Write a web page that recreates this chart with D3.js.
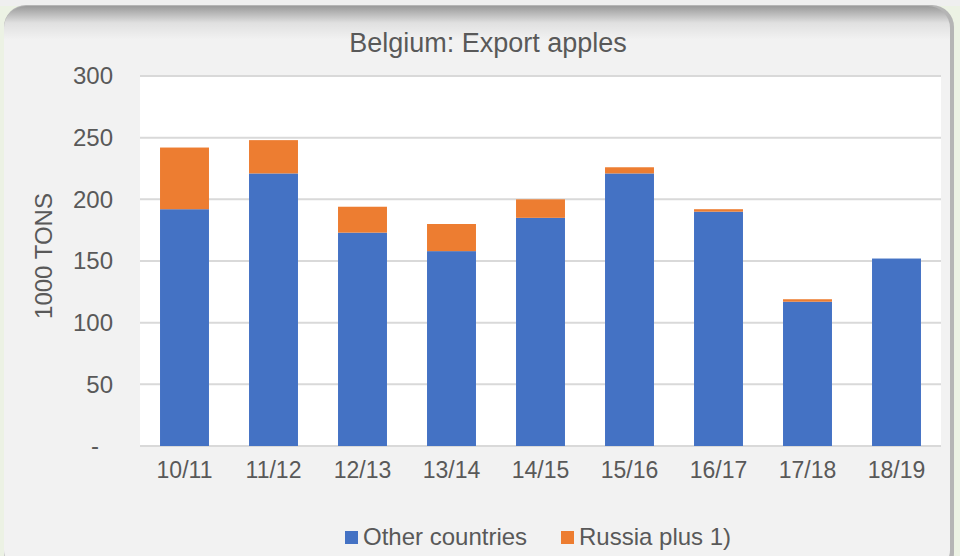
<!DOCTYPE html>
<html>
<head>
<meta charset="utf-8">
<script src="https://cdn.jsdelivr.net/npm/d3@7"></script>
<style>
  body { margin: 0; background: #ecf2e4; }
  svg { display: block; }
  text { font-family: "Liberation Sans", Arial, sans-serif; fill: #595959; }
</style>
</head>
<body>
<svg id="chart" width="960" height="556"></svg>
<script>
// data (1000 tons)
const seasons = ['10/11', '11/12', '12/13', '13/14', '14/15', '15/16', '16/17', '17/18', '18/19']
const otherCountries = [192, 221, 173, 158, 185, 221, 190, 117, 152]
const russiaPlus = [50, 27, 21, 22, 15, 5, 2, 2, 0]
const yTicks = [0, 50, 100, 150, 200, 250, 300]
const seriesNames = ['Other countries', 'Russia plus 1)']
const seriesColors = ['#4472c4', '#ed7d31']

const svg = d3.select('#chart')
const W = 960, H = 556
const margin = {top: 76, right: 19, bottom: 110, left: 140}

// frame
const defs = svg.append('defs')
const shade = defs.append('linearGradient').attr('id', 'topShade')
  .attr('x1', 0).attr('y1', 0).attr('x2', 0).attr('y2', 1)
shade.append('stop').attr('offset', '0').attr('stop-color', '#9a9a9a')
shade.append('stop').attr('offset', '0.03').attr('stop-color', '#e0e0e0')
shade.append('stop').attr('offset', '0.06').attr('stop-color', '#f2f2f2')
shade.append('stop').attr('offset', '1').attr('stop-color', '#f2f2f2')

svg.append('rect').attr('x', 0).attr('y', 0).attr('width', W).attr('height', 6).attr('fill', '#efefef')
svg.append('rect')
  .attr('x', 4).attr('y', 5).attr('width', 950).attr('height', 570)
  .attr('rx', 22).attr('fill', '#b5b5b5')
svg.append('rect')
  .attr('x', 4).attr('y', 6).attr('width', 946).attr('height', 566)
  .attr('rx', 22).attr('fill', 'url(#topShade)')

const x = d3.scaleBand()
  .domain(seasons)
  .range([margin.left, W - margin.right])
  .paddingInner(0.45)
  .paddingOuter(0.225)

const y = d3.scaleLinear()
  .domain([0, 300])
  .range([H - margin.bottom, margin.top])

// plot area
svg.append('rect')
  .attr('x', margin.left).attr('y', margin.top)
  .attr('width', W - margin.right - margin.left)
  .attr('height', H - margin.bottom - margin.top)
  .attr('fill', '#fff')

// gridlines
svg.append('g')
  .selectAll('line')
  .data(yTicks)
  .join('line')
  .attr('x1', margin.left).attr('x2', W - margin.right)
  .attr('y1', d => y(d)).attr('y2', d => y(d))
  .attr('stroke', '#d9d9d9').attr('stroke-width', 2)

// stacked bars
const table = seasons.map((s, i) => ({season: s, other: otherCountries[i], russia: russiaPlus[i]}))
const stack = d3.stack().keys(['other', 'russia'])(table)

svg.append('g')
  .selectAll('g')
  .data(stack)
  .join('g')
  .attr('fill', (d, i) => seriesColors[i])
  .selectAll('rect')
  .data(d => d)
  .join('rect')
  .attr('x', d => x(d.data.season))
  .attr('width', x.bandwidth())
  .attr('y', d => y(d[1]))
  .attr('height', d => y(d[0]) - y(d[1]))

// y axis
const yAxis = svg.append('g')
  .attr('transform', `translate(${margin.left - 27},0)`)
  .call(d3.axisLeft(y).tickValues(yTicks).tickSize(0).tickPadding(0)
    .tickFormat(d => d === 0 ? '-' : d))
yAxis.select('.domain').remove()
yAxis.selectAll('text')
  .style('font-size', '24px')
  .attr('fill', '#595959')
  .attr('dx', d => d === 0 ? -14 : 0)

// x axis
const xAxis = svg.append('g')
  .attr('transform', `translate(0,${H - margin.bottom})`)
  .call(d3.axisBottom(x).tickSize(0).tickPadding(16))
xAxis.select('.domain').remove()
xAxis.selectAll('text')
  .style('font-size', '23px')
  .attr('fill', '#595959')

// title
svg.append('text')
  .attr('x', 488).attr('y', 52)
  .attr('text-anchor', 'middle')
  .style('font-size', '27px')
  .text('Belgium: Export apples')

// y label
svg.append('text')
  .attr('transform', 'translate(52,256) rotate(-90)')
  .attr('text-anchor', 'middle')
  .style('font-size', '24px')
  .text('1000 TONS')

// legend
const legendX = [345, 561]
const legend = svg.append('g')
  .selectAll('g')
  .data(seriesNames)
  .join('g')
  .attr('transform', (d, i) => `translate(${legendX[i]},531)`)
legend.append('rect')
  .attr('width', 13).attr('height', 13)
  .attr('fill', (d, i) => seriesColors[i])
legend.append('text')
  .attr('x', 18).attr('y', 14)
  .style('font-size', '24px')
  .text(d => d)
</script>
</body>
</html>
